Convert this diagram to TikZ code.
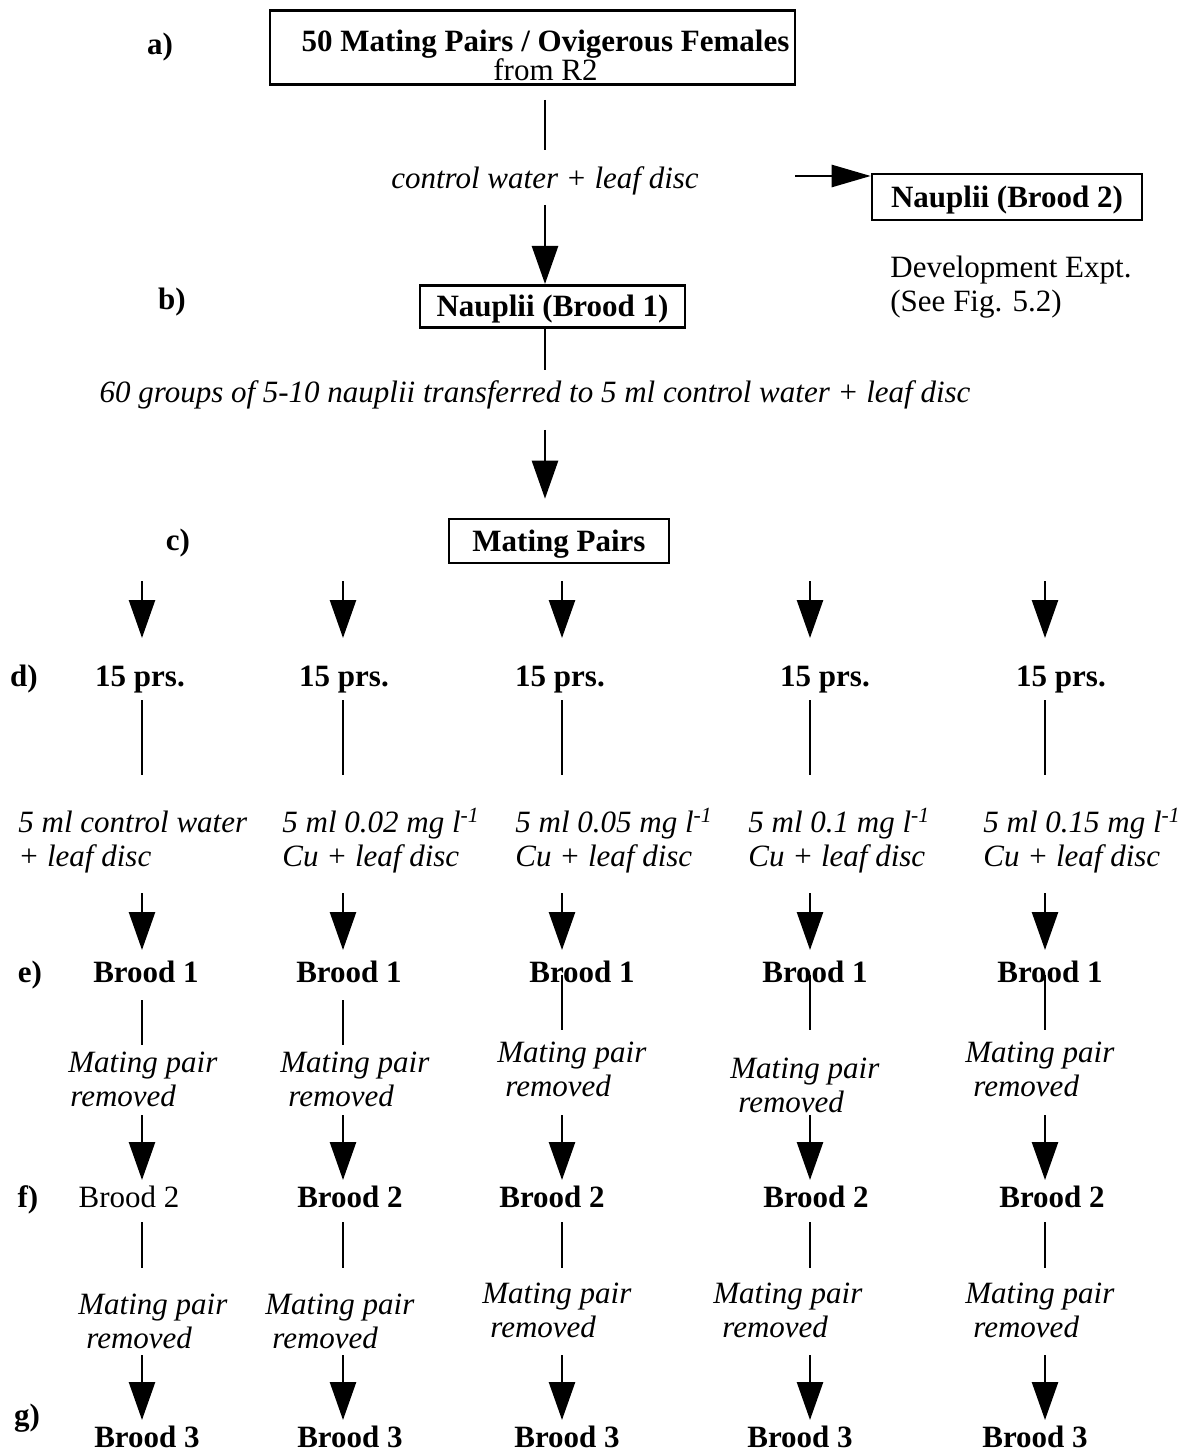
\documentclass[tikz,border=0pt]{standalone}
\usepackage{fontspec}
\setmainfont{Liberation Serif}
\usetikzlibrary{arrows.meta}
\begin{document}
\fontsize{15.5}{18.6}\selectfont
\begin{tikzpicture}[x=0.5pt,y=-0.5pt,
  lab/.style={inner sep=0pt,text height=10.6pt,text depth=3.4pt,anchor=base},
  bl/.style={lab,font=\bfseries},
  it1/.style={lab,font=\itshape},
  it2/.style={inner sep=0pt,align=left,anchor=north west,font=\itshape\fontsize{15.5}{17}\selectfont},
  boxed/.style={draw,line width=1.3pt,inner sep=0pt,text height=10.6pt,text depth=0pt,font=\bfseries},
  ln/.style={line width=1.3pt},
  arr/.style={line width=1.3pt,-{Triangle[length=19pt,width=13pt]}}]
\useasboundingbox (0,0) rectangle (1192,1454);
\foreach \k/\x in {0/545,1/142,2/343,3/562,4/810,5/1045} \coordinate (c\k) at (\x,0);

% step labels
\node[bl] (la) at (160,55) {a)};
\node[bl] (lb) at (172,310) {b)};
\node[bl] (lc) at (178,550) {c)};
\node[bl] (ld) at (24,686) {d)};
\node[bl] (le) at (30,982) {e)};
\node[bl] (lf) at (28,1207) {f)};
\node[bl] (lg) at (27,1425) {g)};

% upper part
\node[draw,line width=1.3pt,inner sep=0pt,minimum width=262.5pt,align=center,font=\bfseries,anchor=south] (boxa) at (532.5,86)
  {\hspace*{13pt}\rule{0pt}{20.5pt}50 Mating Pairs / Ovigerous Females\\[-4pt]\hspace*{13pt}\mdseries from R2\rule[-2pt]{0pt}{2pt}};
\node[it1] (cw) at (545,189) {control water + leaf disc};
\node[boxed,minimum width=132.5pt,minimum height=21pt,anchor=north] (boxb) at (552.5,284) {Nauplii (Brood 1)};
\node[boxed,minimum width=135pt,minimum height=23pt] (n2) at (1007,197) {Nauplii (Brood 2)};
\coordinate (n2in) at (795,176);
\node[lab,anchor=base west] (dev) at (890,278) {Development Expt.};
\node[lab,anchor=base west] (see) at (890,312) {(See Fig. 5.2)};
\node[it1] (grp) at (535,403) {60 groups of 5-10 nauplii transferred to 5 ml control water + leaf disc};
\node[boxed,minimum width=110pt,minimum height=22pt] (mp) at (559,541) {Mating Pairs};

\draw[ln,shorten <=7pt,shorten >=19.5pt] (boxa.south -| c0) -- (cw.base -| c0);
\draw[arr,shorten <=8pt] (cw.base -| c0) -- (boxb.north -| c0);
\draw[ln,shorten >=16.5pt] (boxb.south -| c0) -- (grp.base -| c0);
\draw[arr,shorten <=13.5pt,shorten >=9.5pt] (grp.base -| c0) -- (mp.north -| c0);
\draw[ln,-{Triangle[length=19.5pt,width=11pt]}] (n2in) -- (n2in -| n2.west);

% d) pairs
\node[bl] (p1) at (140,686) {15 prs.};
\node[bl] (p2) at (344,686) {15 prs.};
\node[bl] (p3) at (560,686) {15 prs.};
\node[bl] (p4) at (825,686) {15 prs.};
\node[bl] (p5) at (1061,686) {15 prs.};

% concentrations
\node[it2] (q1) at (18,811) {\rule{0pt}{10.6pt}5 ml control water\\+ leaf disc};
\node[it2] (q2) at (282,811) {\rule{0pt}{10.6pt}5 ml 0.02 mg l\smash{\textsuperscript{-1}}\\Cu + leaf disc};
\node[it2] (q3) at (515,811) {\rule{0pt}{10.6pt}5 ml 0.05 mg l\smash{\textsuperscript{-1}}\\Cu + leaf disc};
\node[it2] (q4) at (748,811) {\rule{0pt}{10.6pt}5 ml 0.1 mg l\smash{\textsuperscript{-1}}\\Cu + leaf disc};
\node[it2] (q5) at (983,811) {\rule{0pt}{10.6pt}5 ml 0.15 mg l\smash{\textsuperscript{-1}}\\Cu + leaf disc};

% e) brood 1
\node[bl] (e1) at (146,982) {Brood 1};
\node[bl] (e2) at (349,982) {Brood 1};
\node[bl] (e3) at (582,982) {Brood 1};
\node[bl] (e4) at (815,982) {Brood 1};
\node[bl] (e5) at (1050,982) {Brood 1};

% mating pair removed (1)
\node[it2] (ma1) at (68,1051) {\rule{0pt}{10.6pt}Mating pair\\\hspace*{1pt}removed};
\node[it2] (ma2) at (280,1051) {\rule{0pt}{10.6pt}Mating pair\\\hspace*{4pt}removed};
\node[it2] (ma3) at (497,1041) {\rule{0pt}{10.6pt}Mating pair\\\hspace*{4pt}removed};
\node[it2] (ma4) at (730,1057) {\rule{0pt}{10.6pt}Mating pair\\\hspace*{4pt}removed};
\node[it2] (ma5) at (965,1041) {\rule{0pt}{10.6pt}Mating pair\\\hspace*{4pt}removed};

% f) brood 2
\node[lab] (f1) at (129,1207) {Brood 2};
\node[bl] (f2) at (350,1207) {Brood 2};
\node[bl] (f3) at (552,1207) {Brood 2};
\node[bl] (f4) at (816,1207) {Brood 2};
\node[bl] (f5) at (1052,1207) {Brood 2};

% mating pair removed (2)
\node[it2] (mb1) at (78,1293) {\rule{0pt}{10.6pt}Mating pair\\\hspace*{4pt}removed};
\node[it2] (mb2) at (265,1293) {\rule{0pt}{10.6pt}Mating pair\\\hspace*{3.5pt}removed};
\node[it2] (mb3) at (482,1282) {\rule{0pt}{10.6pt}Mating pair\\\hspace*{4pt}removed};
\node[it2] (mb4) at (713,1282) {\rule{0pt}{10.6pt}Mating pair\\\hspace*{4.5pt}removed};
\node[it2] (mb5) at (965,1282) {\rule{0pt}{10.6pt}Mating pair\\\hspace*{4pt}removed};

% g) brood 3
\node[bl] (g1) at (147,1447) {Brood 3};
\node[bl] (g2) at (350,1447) {Brood 3};
\node[bl] (g3) at (567,1447) {Brood 3};
\node[bl] (g4) at (800,1447) {Brood 3};
\node[bl] (g5) at (1035,1447) {Brood 3};

% column connectors
\foreach \k in {1,...,5} {
  \draw[arr,shorten <=8.5pt,shorten >=24pt] (mp.south -| c\k) -- (p\k.base -| c\k);
  \draw[ln,shorten <=7pt,shorten >=18pt] (p\k.base -| c\k) -- (q\k.north -| c\k);
  \draw[arr,shorten <=41pt,shorten >=16pt] (q\k.north -| c\k) -- (e\k.base -| c\k);
}
\foreach \k/\sa/\sb/\sc/\sd/\se in {1/9/3/32/12.5/31,2/9/3/32/12.5/31,3/-3.5/5.5/37/7/36.5,4/-3.5/13.5/29/7/36.5,5/-3.5/5.5/37/7/36.5} {
  \draw[ln,shorten <=\sa pt,shorten >=\sb pt] (e\k.base -| c\k) -- (ma\k.north -| c\k);
  \draw[arr,shorten <=\sc pt,shorten >=13.5pt] (ma\k.north -| c\k) -- (f\k.base -| c\k);
  \draw[ln,shorten <=7.5pt,shorten >=\sd pt] (f\k.base -| c\k) -- (mb\k.north -| c\k);
  \draw[arr,shorten <=\se pt,shorten >=13.5pt] (mb\k.north -| c\k) -- (g\k.base -| c\k);
}
\end{tikzpicture}
\end{document}
